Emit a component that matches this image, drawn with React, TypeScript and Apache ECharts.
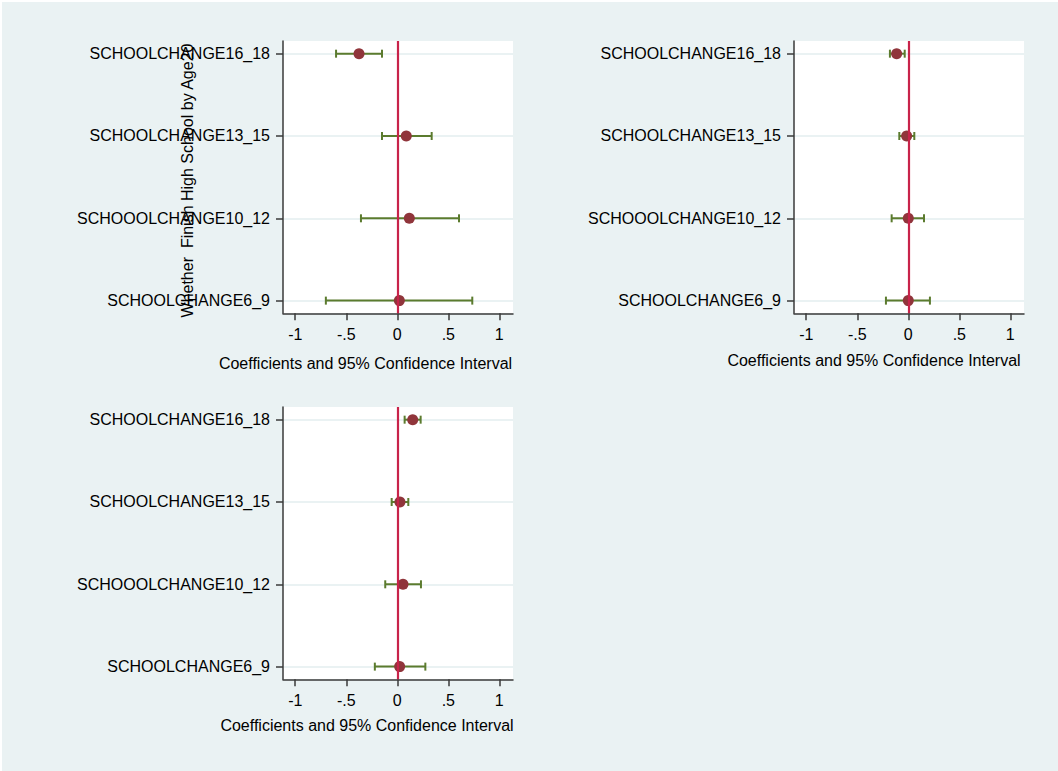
import React, { useEffect, useRef } from "react";
import * as echarts from "echarts";

const categories = [
  "SCHOOLCHANGE6_9",
  "SCHOOOLCHANGE10_12",
  "SCHOOLCHANGE13_15",
  "SCHOOLCHANGE16_18",
];
const catPos = [1, 2, 3, 4];
const xTicks = [-1, -0.5, 0, 0.5, 1];
const xTickLabels = ["-1", "-.5", "0", ".5", "1"];
const xTitle = "Coefficients and 95% Confidence Interval";
const yTitle = "Whether  Finish High School by Age20";

// panel 1 (top-left)
const coef1 = [0.02, 0.118, 0.088, -0.375];
const lo1 = [-0.7, -0.356, -0.15, -0.6];
const hi1 = [0.735, 0.605, 0.337, -0.15];
// panel 2 (top-right)
const coef2 = [0.0, 0.0, -0.016, -0.114];
const lo2 = [-0.219, -0.163, -0.088, -0.18];
const hi2 = [0.212, 0.154, 0.059, -0.035];
// panel 3 (bottom-left)
const coef3 = [0.023, 0.056, 0.026, 0.151];
const lo3 = [-0.22, -0.118, -0.055, 0.072];
const hi3 = [0.275, 0.232, 0.108, 0.229];

const FONT = "'Liberation Sans', Arial, sans-serif";
const BG = "#EAF2F3";
const DOT = "#90353B";
const CI = "#5B7B2E";
const REF = "#C8234A";
const AXIS = "#3a3a3a";

export default function App() {
  const ref = useRef<HTMLDivElement>(null);
  useEffect(() => {
    if (!ref.current) return;
    const chart = echarts.init(ref.current, null, { renderer: "svg" });
    const panels = [
      { coef: coef1, lo: lo1, hi: hi1, left: 281, top: 39 },
      { coef: coef2, lo: lo2, hi: hi2, left: 792, top: 39 },
      { coef: coef3, lo: lo3, hi: hi3, left: 281, top: 405 },
    ];
    const grids = panels.map((p) => ({
      left: p.left,
      top: p.top,
      width: 230,
      height: 272.3,
      show: true,
      backgroundColor: "#ffffff",
      borderWidth: 0,
      containLabel: false,
    }));
    const xAxes = panels.map((_, i) => ({
      type: "value",
      gridIndex: i,
      position: "bottom",
      min: -1.12,
      max: 1.134,
      axisLine: { show: true, onZero: false, lineStyle: { color: AXIS, width: 1.5 } },
      axisTick: {
        show: true,
        length: 7,
        customValues: xTicks,
        lineStyle: { color: AXIS, width: 1.5 },
      },
      axisLabel: {
        customValues: xTicks,
        margin: 13,
        fontSize: 16,
        color: "#000",
        fontFamily: FONT,
        formatter: (v: number) => {
          const k = xTicks.findIndex((t) => Math.abs(t - v) < 1e-6);
          return k >= 0 ? xTickLabels[k] : "";
        },
      },
      splitLine: { show: false },
    }));
    const yAxes = panels.map((_, i) => ({
      type: "value",
      gridIndex: i,
      position: "left",
      min: 0.846,
      max: 4.154,
      axisLine: { show: true, onZero: false, lineStyle: { color: AXIS, width: 1.5 } },
      axisTick: {
        show: true,
        length: 7,
        customValues: catPos,
        lineStyle: { color: AXIS, width: 1.5 },
      },
      axisLabel: {
        customValues: catPos,
        margin: 13,
        fontSize: 16,
        color: "#000",
        fontFamily: FONT,
        formatter: (v: number) => {
          const k = catPos.findIndex((t) => Math.abs(t - v) < 1e-6);
          return k >= 0 ? categories[k] : "";
        },
      },
      splitLine: { show: true, lineStyle: { color: BG, width: 2 } },
    }));
    const series: any[] = [];
    panels.forEach((p, i) => {
      series.push({
        type: "line",
        xAxisIndex: i,
        yAxisIndex: i,
        z: 1,
        silent: true,
        data: [],
        markLine: {
          silent: true,
          symbol: ["none", "none"],
          label: { show: false },
          lineStyle: { color: REF, width: 2.2, type: "solid" },
          data: [{ xAxis: 0 }],
        },
      });
      series.push({
        type: "custom",
        xAxisIndex: i,
        yAxisIndex: i,
        z: 2,
        silent: true,
        data: catPos.map((c, k) => [p.lo[k], c, p.hi[k]]),
        encode: { x: [0, 2], y: 1 },
        renderItem: (params: any, api: any) => {
          const y = api.value(1);
          const a = api.coord([api.value(0), y]);
          const b = api.coord([api.value(2), y]);
          const st = { stroke: CI, lineWidth: 2 };
          return {
            type: "group",
            children: [
              { type: "line", shape: { x1: a[0], y1: a[1], x2: b[0], y2: b[1] }, style: st },
              { type: "line", shape: { x1: a[0], y1: a[1] - 4, x2: a[0], y2: a[1] + 4 }, style: st },
              { type: "line", shape: { x1: b[0], y1: b[1] - 4, x2: b[0], y2: b[1] + 4 }, style: st },
            ],
          };
        },
      });
      series.push({
        type: "scatter",
        xAxisIndex: i,
        yAxisIndex: i,
        z: 3,
        symbol: "circle",
        symbolSize: 11,
        itemStyle: { color: DOT, opacity: 1 },
        data: catPos.map((c, k) => [p.coef[k], c]),
      });
    });
    chart.setOption({
      animation: false,
      backgroundColor: BG,
      grid: grids,
      xAxis: xAxes,
      yAxis: yAxes,
      series,
      graphic: [
        {
          type: "text",
          x: 185,
          y: 178.5,
          rotation: Math.PI / 2,
          z: 100,
          style: {
            text: yTitle,
            fontSize: 16,
            fontFamily: FONT,
            fill: "#000",
            align: "center",
            verticalAlign: "middle",
          },
        },
        {
          type: "text",
          x: 363.5,
          y: 361,
          style: { text: xTitle, fontSize: 16, fontFamily: FONT, fill: "#000", align: "center", verticalAlign: "middle" },
        },
        {
          type: "text",
          x: 872,
          y: 358,
          style: { text: xTitle, fontSize: 16, fontFamily: FONT, fill: "#000", align: "center", verticalAlign: "middle" },
        },
        {
          type: "text",
          x: 365,
          y: 723.7,
          style: { text: xTitle, fontSize: 16, fontFamily: FONT, fill: "#000", align: "center", verticalAlign: "middle" },
        },
      ],
    });
    return () => chart.dispose();
  }, []);
  return (
    <div style={{ position: "absolute", left: 0, top: 0, width: 1058, height: 771, background: "#fff" }}>
      <div ref={ref} style={{ position: "absolute", left: 2, top: 2, width: 1056, height: 769 }} />
    </div>
  );
}
